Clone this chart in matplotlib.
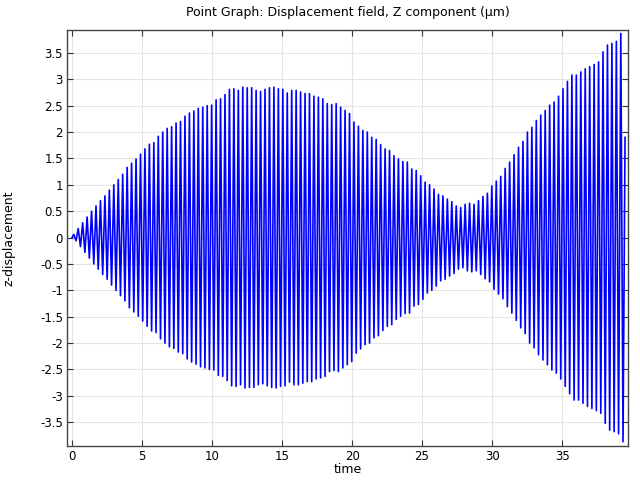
import numpy as np
import matplotlib
matplotlib.use('Agg')
import matplotlib.pyplot as plt
from matplotlib.ticker import FuncFormatter

# upper peak of each cycle (um)
peak_amp = [0.06, 0.17, 0.28, 0.39, 0.50, 0.60, 0.70, 0.79, 0.90, 1.00,
            1.10, 1.20, 1.33, 1.41, 1.49, 1.58, 1.68, 1.77, 1.80, 1.92,
            2.00, 2.07, 2.10, 2.17, 2.20, 2.30, 2.36, 2.40, 2.45, 2.47,
            2.50, 2.51, 2.61,
            2.63, 2.71, 2.81, 2.82, 2.79, 2.85, 2.84, 2.84, 2.79, 2.77,
            2.81, 2.84, 2.85, 2.82, 2.81, 2.74, 2.79, 2.79, 2.76, 2.73,
            2.73, 2.68, 2.66, 2.63, 2.54, 2.52, 2.54, 2.47, 2.41, 2.35,
            2.19, 2.11, 2.03, 2.00, 1.90, 1.86, 1.76, 1.68, 1.65, 1.55,
            1.49, 1.44, 1.43, 1.30, 1.27, 1.17, 1.05, 1.00, 0.92, 0.82,
            0.79, 0.73, 0.68, 0.60, 0.57, 0.63, 0.65, 0.63, 0.70, 0.78,
            0.84,
            0.98, 1.07, 1.16, 1.31, 1.43, 1.57, 1.71, 1.82, 2.00, 2.09,
            2.22, 2.32, 2.41, 2.51, 2.57, 2.68, 2.82, 2.96, 3.08, 3.08,
            3.14, 3.20, 3.24, 3.28, 3.33, 3.52, 3.65, 3.68, 3.72, 3.87]
first_peak = 0.12    # time of first peak
period = 0.3177      # oscillation period read from the peak spacing
t_end, z_end = 39.5, 1.9   # last sample

n = len(peak_amp)
t_peak = first_peak + period * np.arange(n)
t = np.empty(2 * n + 2)
z = np.empty(2 * n + 2)
t[0], z[0] = 0.0, 0.0
t[1:-1:2], z[1:-1:2] = t_peak, peak_amp
t[2:-1:2], z[2:-1:2] = t_peak + period / 2, -np.array(peak_amp)
t[-1], z[-1] = t_end, z_end

fig = plt.figure(figsize=(6.4, 4.8), dpi=100)
ax = fig.add_axes([0.105, 0.071, 0.876, 0.867])
ax.plot(t, z, color='#0000ff', lw=1.2)

ax.set_xlim(-0.35, 39.7)
ax.set_ylim(-3.95, 3.94)
ax.set_xticks(np.arange(0, 40, 5))
ax.set_yticks(np.arange(-3.5, 3.6, 0.5))
fmt = FuncFormatter(lambda v, p: ('%g' % v).replace('\u2212', '-'))
ax.yaxis.set_major_formatter(fmt)
ax.xaxis.set_major_formatter(fmt)
ax.grid(True, color='#e4e4e4', lw=0.8)
ax.set_axisbelow(True)
ax.tick_params(direction='in', top=True, right=True, length=4, width=0.8,
               labelsize=8.5, colors='#333333', labelcolor='black', pad=3)
for s in ax.spines.values():
    s.set_color('#444444')
    s.set_linewidth(1.0)

ax.set_title('Point Graph: Displacement field, Z component (\u00b5m)', fontsize=9, pad=10)
ax.set_xlabel('time', fontsize=9, labelpad=0)
ax.set_ylabel('z-displacement', fontsize=9, labelpad=18)

fig.savefig('out.png', dpi=100)
